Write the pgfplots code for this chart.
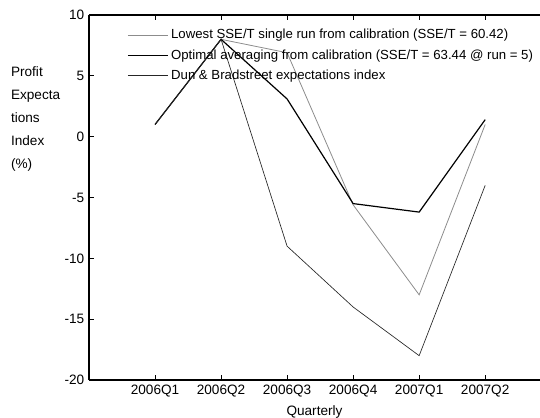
\documentclass[border=0pt]{standalone}
\usepackage{pgfplots}
\pgfplotsset{compat=1.18}
\usepackage{fontspec}
\setmainfont{Liberation Sans}
\begin{document}
\begin{tikzpicture}
\begin{axis}[
  scale only axis,
  width=338.25pt, height=273.75pt,
  xmin=0, xmax=6.83, ymin=-20, ymax=10,
  axis x line=box, axis y line=left,
  y axis line style={-}, x axis line style={-},
  axis line style={line width=0.8pt},
  tick align=inside,
  major tick length=4pt,
  every tick/.style={black, line width=0.6pt},
  xtick={1,2,3,4,5,6},
  xticklabels={2006Q1,2006Q2,2006Q3,2006Q4,2007Q1,2007Q2},
  ytick={-20,-15,-10,-5,0,5,10},
  yticklabels={-20,-15,-10,-5,0,5,10},
  ticklabel style={font=\fontsize{10.2}{12}\selectfont},
  xticklabel style={yshift=-0.5pt},
  xlabel={Quarterly},
  xlabel style={font=\fontsize{10.2}{12}\selectfont, yshift=1pt},
  ylabel={Profit\\Expecta\\tions\\Index\\(\%)},
  every axis y label/.style={at={(rel axis cs:0,1)}, anchor=north west, rotate=0,
     xshift=-62pt, yshift=-35pt, align=left, font=\fontsize{10.2}{17.25}\selectfont},
  legend style={draw=none, fill=none, at={(rel axis cs:0,1)}, anchor=north west,
     xshift=28.5pt, yshift=-8.5pt, font=\fontsize{9.9}{12}\selectfont, row sep=2.6pt,
     inner sep=0pt},
  legend cell align=left,
  legend image code/.code={\draw[#1] (0pt,0pt) -- (30pt,0pt);},
]
\addplot[color=black!45, line width=0.6pt] coordinates {(1,1) (2,8) (3,6.9) (4,-5.6) (5,-13) (6,1.0)};
\addlegendentry{Lowest SSE/T single run from calibration (SSE/T = 60.42)}
\addplot[color=black, line width=0.9pt] coordinates {(1,1) (2,8) (3,3.1) (4,-5.5) (5,-6.2) (6,1.4)};
\addlegendentry{Optimal averaging from calibration (SSE/T = 63.44 @ run = 5)}
\addplot[color=black!85, line width=0.5pt] coordinates {(1,1) (2,8) (3,-9) (4,-14) (5,-18) (6,-4)};
\addlegendentry{Dun \& Bradstreet expectations index}
\coordinate (sw) at (rel axis cs:0,0);
\coordinate (ne) at (rel axis cs:1,1);
\end{axis}
\pgfresetboundingbox
\useasboundingbox ([xshift=-66.75pt,yshift=-28.5pt]sw) rectangle ([yshift=11.25pt]ne);
\end{tikzpicture}
\end{document}
